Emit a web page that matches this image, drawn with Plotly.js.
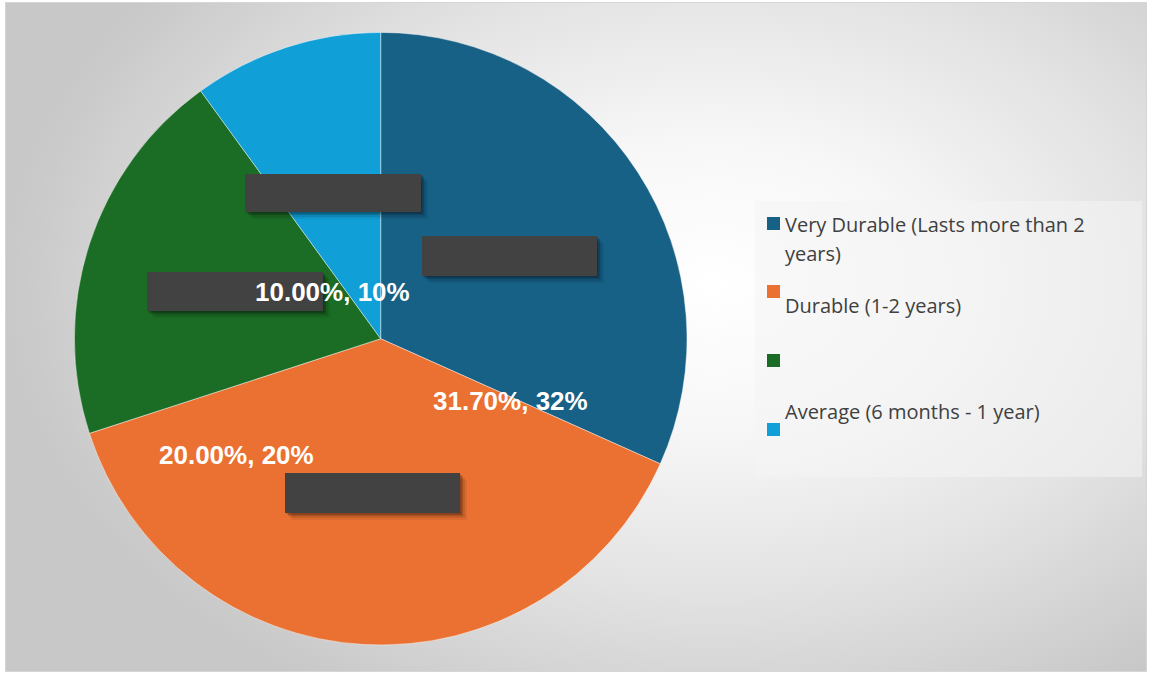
<!DOCTYPE html>
<html>
<head>
<meta charset="utf-8">
<script src="https://cdn.plot.ly/plotly-3.0.1.min.js"></script>
<style>
  html, body { margin: 0; padding: 0; background: #ffffff; }
  #wrap { position: relative; width: 1151px; height: 675px; overflow: hidden; background: #ffffff; }
  #bg { position: absolute; left: 5px; top: 2px; width: 1142px; height: 670px;
        border: 1px solid #d6d6d6; box-sizing: border-box;
        background: radial-gradient(ellipse 62% 72% at 62% 42%, #ffffff 0%, #f7f7f7 30%, #e2e2e2 65%, #c8c8c8 100%); }
  #chart { position: absolute; left: 0; top: 0; width: 1151px; height: 675px; }
</style>
</head>
<body>
<div id="wrap"><div id="bg"></div><div id="chart"></div></div>
<script>
// ---- data ----
const categories = ["Very Durable (Lasts more than 2 years)", "Durable (1-2 years)", "", "Average (6 months - 1 year)"];
const values = [31.7, 38.3, 20.0, 10.0];
const colors = ["#176086", "#ea7132", "#1b6c25", "#119fd7"];
// visible data labels (others are redacted boxes in the original)
const labelValues = [10.0, 31.7, 20.0];

// ---- layout helpers ----
const W = 1151, H = 675;
const px = x => x / W;
const py = y => 1 - y / H;

const cx = 380.7, cy = 338.7, r = 306.3;

const pie = {
  type: "pie",
  values: values,
  labels: categories.map((c, i) => c === "" ? "\u200b" : c),
  sort: false,
  direction: "clockwise",
  rotation: 0,
  textinfo: "none",
  hoverinfo: "label+percent",
  showlegend: false,
  marker: { colors: colors, line: { color: "rgba(255,255,255,0.55)", width: 0.8 } },
  domain: { x: [px(cx - r), px(cx + r)], y: [py(cy + r), py(cy - r)] }
};

const shapes = [];
const annotations = [];

// redacted label boxes (dark, with soft shadow)
const boxes = [[245, 174, 421, 212], [422, 236, 597, 276], [147, 272, 323, 311], [285, 473, 460, 513]];
boxes.forEach(b => {
  [[7, 0.06], [5, 0.10], [3, 0.16], [1.5, 0.2]].forEach(([o, a]) => {
    shapes.push({ type: "rect", xref: "paper", yref: "paper", layer: "above",
      x0: px(b[0] + o), x1: px(b[2] + o), y0: py(b[3] + o), y1: py(b[1] + o),
      fillcolor: `rgba(0,0,0,${a})`, line: { width: 0 } });
  });
  shapes.push({ type: "rect", xref: "paper", yref: "paper", layer: "above",
    x0: px(b[0]), x1: px(b[2]), y0: py(b[3]), y1: py(b[1]),
    fillcolor: "#424242", line: { width: 0 } });
});

// data labels
const labelPos = [[332.5, 292], [510, 401], [236, 455]];
labelValues.forEach((v, i) => {
  annotations.push({ xref: "paper", yref: "paper", x: px(labelPos[i][0]), y: py(labelPos[i][1]),
    xanchor: "center", yanchor: "middle", showarrow: false,
    text: "<b>" + v.toFixed(2) + "%, " + Math.round(v) + "%</b>",
    font: { family: "Liberation Sans, Arial, sans-serif", size: 26, color: "#ffffff" } });
});

// legend box
shapes.push({ type: "rect", xref: "paper", yref: "paper", layer: "above",
  x0: px(755), x1: px(1142), y0: py(477), y1: py(201),
  fillcolor: "rgba(244,244,244,0.55)", line: { width: 0 } });

// legend entries
const markerTops = [217, 285, 354, 423];
const textLines = [[224, 253], [305], [], [411]];
function wrapLegend(label) {
  const words = label.split(" ");
  const lines = []; let cur = "";
  words.forEach(w => {
    const t = cur ? cur + " " + w : w;
    if (t.length > 31 && cur) { lines.push(cur); cur = w; } else cur = t;
  });
  if (cur) lines.push(cur);
  return lines;
}
categories.forEach((c, i) => {
  shapes.push({ type: "rect", xref: "paper", yref: "paper", layer: "above",
    x0: px(767), x1: px(780), y0: py(markerTops[i] + 13), y1: py(markerTops[i]),
    fillcolor: colors[i], line: { width: 0 } });
  wrapLegend(c).forEach((ln, j) => {
    annotations.push({ xref: "paper", yref: "paper", x: px(783), y: py(textLines[i][j]),
      xanchor: "left", yanchor: "middle", showarrow: false, text: ln,
      font: { family: "Open Sans, sans-serif", size: 20, color: "#404040" } });
  });
});

const layout = {
  width: W, height: H,
  margin: { l: 0, r: 0, t: 0, b: 0 },
  paper_bgcolor: "rgba(0,0,0,0)",
  plot_bgcolor: "rgba(0,0,0,0)",
  showlegend: false,
  shapes: shapes,
  annotations: annotations
};

Plotly.newPlot("chart", [pie], layout, { displayModeBar: false, staticPlot: true });
</script>
</body>
</html>
